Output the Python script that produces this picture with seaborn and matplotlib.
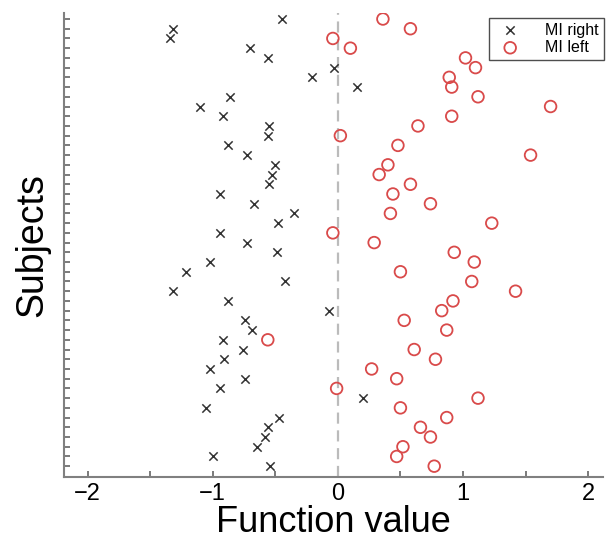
import numpy as np
import pandas as pd
import matplotlib
matplotlib.use("Agg")
import matplotlib.pyplot as plt
import seaborn as sns

# Function values per subject (subject 1 at the top)
mi_right = [-0.45, -1.32, -1.34, -0.70, -0.56, -0.03, -0.21, 0.15, -0.86, -1.10,
            -0.92, -0.55, -0.56, -0.88, -0.73, -0.50, -0.53, -0.55, -0.94, -0.67,
            -0.35, -0.48, -0.94, -0.73, -0.49, -1.02, -1.21, -0.42, -1.32, -0.88,
            -0.07, -0.74, -0.69, -0.92, -0.76, -0.91, -1.02, -0.74, -0.94, 0.20,
            -1.05, -0.47, -0.56, -0.58, -0.65, -1.00, -0.54]
mi_left = [0.36, 0.58, -0.04, 0.10, 1.02, 1.10, 0.89, 0.91, 1.12, 1.70,
           0.91, 0.64, 0.02, 0.48, 1.54, 0.40, 0.33, 0.58, 0.44, 0.74,
           0.42, 1.23, -0.04, 0.29, 0.93, 1.09, 0.50, 1.07, 1.42, 0.92,
           0.83, 0.53, 0.87, -0.56, 0.61, 0.78, 0.27, 0.47, -0.01, 1.12,
           0.50, 0.87, 0.66, 0.74, 0.52, 0.47, 0.77]
subjects = np.arange(1, len(mi_right) + 1)

df = pd.DataFrame({"subject": subjects, "right": mi_right, "left": mi_left})

sns.set_style("white")
plt.rcParams['font.family'] = ['Liberation Sans', 'DejaVu Sans']
plt.rcParams['text.color'] = 'black'
plt.rcParams['axes.labelcolor'] = 'black'
plt.rcParams['xtick.color'] = 'black'

fig = plt.figure(figsize=(6.08, 5.41), dpi=100)
ax = fig.add_axes([0.105, 0.118, 0.887, 0.858])

ax.axvline(0, color='#bbbbbb', lw=1.6, ls=(0, (5, 3)), zorder=1)

sns.scatterplot(data=df, x="right", y="subject", marker='x', color='#333333',
                s=36, linewidth=1.1, label='MI right', ax=ax, zorder=3)
sns.scatterplot(data=df, x="left", y="subject", marker='o', facecolors='none',
                edgecolor='#d94a4a', s=70, linewidth=1.3, label='MI left',
                ax=ax, zorder=3)

ax.set_xlim(-2.19, 2.12)
ax.set_ylim(48.13, 0.38)
ax.set_xticks(np.arange(-2, 2.01, 0.5))
ax.set_xticklabels(['\u22122', '', '\u22121', '', '0', '', '1', '', '2'])
ax.set_yticks(subjects)
ax.set_yticklabels([])

for side in ['top', 'right']:
    ax.spines[side].set_visible(False)
for side in ['left', 'bottom']:
    ax.spines[side].set_color('#808080')
    ax.spines[side].set_linewidth(1.5)
ax.tick_params(axis='both', direction='in', length=4, width=1.3, color='#707070',
               bottom=True, left=True)
ax.tick_params(axis='x', labelsize=17, pad=4, labelcolor='black')

ax.set_xlabel('Function value', fontsize=26, labelpad=0)
ax.set_ylabel('Subjects', fontsize=27, labelpad=6)

leg = ax.legend(loc='upper right', bbox_to_anchor=(1.01, 1.0), fontsize=11.5,
                frameon=True, fancybox=False, edgecolor='#222222',
                handletextpad=1.2, borderpad=0.3, labelspacing=0.15,
                borderaxespad=0.3)
leg.get_frame().set_linewidth(1.0)

fig.savefig('out.png', dpi=100)
